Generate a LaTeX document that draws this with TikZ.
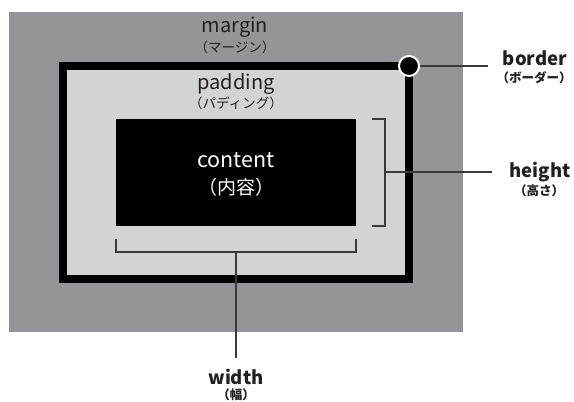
\documentclass[tikz,border=0pt]{standalone}
\usepackage{fontspec}
\setmainfont{Noto Sans CJK JP}
\newfontfamily\jpf{Noto Sans CJK JP}
\definecolor{margincol}{HTML}{939598}
\definecolor{padcol}{HTML}{D1D3D4}
\definecolor{ink}{HTML}{231F20}
\definecolor{linecol}{HTML}{3A3A3C}
\tikzset{
  en/.style={anchor=base, inner sep=0pt, text=ink, font=\fontsize{20bp}{22bp}\selectfont},
  jp/.style={anchor=base, inner sep=0pt, text=ink, font=\jpf\fontsize{13.5bp}{16bp}\selectfont},
  enb/.style={anchor=base, inner sep=0pt, text=ink, font=\bfseries\fontsize{18.5bp}{20bp}\selectfont},
  jpb/.style={anchor=base, inner sep=0pt, text=ink, font=\jpf\bfseries\fontsize{12.5bp}{15bp}\selectfont},
  guide/.style={draw=linecol, line width=1.2bp},
}
\begin{document}
\begin{tikzpicture}[x=1bp,y=-1bp]
\useasboundingbox (0,0) rectangle (574,401);
% margin
\fill[margincol] (9,12) rectangle (463,332);
% border + padding
\draw[line width=8bp, fill=padcol] (62.5,66) rectangle (409,279);
% content
\node[fill=black, minimum width=240bp, minimum height=107bp, inner sep=0pt, anchor=north west] (content) at (116,119) {};
% labels inside
\node[en] (marginlbl) at (235,32) {margin};
\node[jp] (marginjp) at (235,52) {（マージン）};
\node[en] (padlbl) at (236,89) {padding};
\node[jp] (padjp) at (236,108) {（パディング）};
\node[en, text=white, font=\fontsize{21.5bp}{24bp}\selectfont] (contentlbl) at (236,167) {content};
\node[jp, text=white, font=\jpf\fontsize{19bp}{22bp}\selectfont] (contentjp) at (236,194) {（内容）};
% height bracket
\coordinate (hb1) at (372,119);
\coordinate (hb2) at (385,119);
\coordinate (hb3) at (385,226);
\coordinate (hb4) at (372,226);
\coordinate (hmid) at (385,172);
\draw[guide] (hb1) -- (hb2) -- (hb3) -- (hb4);
\coordinate (hend) at (492,172);
\draw[guide] (hmid) -- (hend);
% width bracket
\coordinate (wb1) at (116,239);
\coordinate (wb2) at (116,252);
\coordinate (wb3) at (356,252);
\coordinate (wb4) at (356,239);
\coordinate (wmid) at (236,252);
\draw[guide] (wb1) -- (wb2) -- (wb3) -- (wb4);
\coordinate (wend) at (236,358);
\draw[guide] (wmid) -- (wend);
% border marker
\node[circle, fill=black, draw=white, line width=2bp, minimum size=20bp, inner sep=0pt] (dot) at (409,66) {};
\coordinate (bend) at (488,66);
\draw[guide] (dot.east) -- (bend);
% right labels
\node[enb] (borderlbl) at (535,65) {border};
\node[jpb] (borderjp) at (534,82) {（ボーダー）};
\node[enb] (heightlbl) at (540,177) {height};
\node[jpb] (heightjp) at (539,195) {（高さ）};
\node[enb] (widthlbl) at (236,384) {width};
\node[jpb] (widthjp) at (236,399.5) {（幅）};
\end{tikzpicture}
\end{document}
